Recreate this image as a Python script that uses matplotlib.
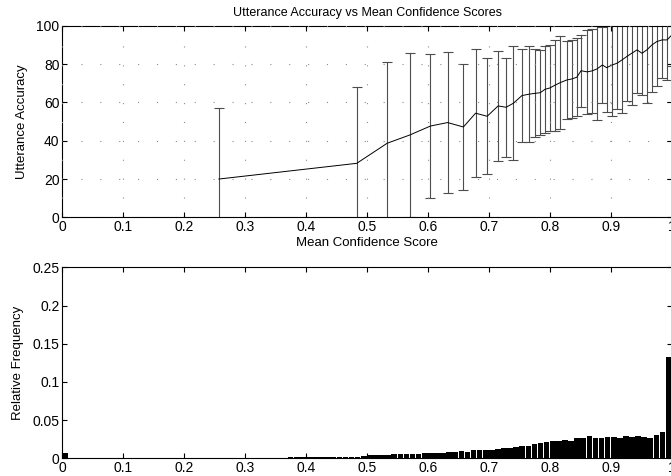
import matplotlib
matplotlib.use('Agg')
import matplotlib.pyplot as plt
import numpy as np

plt.rcParams['font.family'] = ['Liberation Sans', 'DejaVu Sans']

# accuracy vs mean confidence (mean and std of utterance accuracy per bin)
acc_x = [0.257, 0.483, 0.533, 0.570, 0.604, 0.632, 0.658, 0.678, 0.697, 0.715,
         0.728, 0.740, 0.754, 0.765, 0.776, 0.784, 0.792, 0.800, 0.808, 0.817,
         0.828, 0.836, 0.844, 0.851, 0.861, 0.869, 0.877, 0.886, 0.893, 0.902,
         0.910, 0.918, 0.926, 0.934, 0.943, 0.951, 0.959, 0.967, 0.975, 0.984,
         0.992, 1.000]
acc_mean = [20.0, 28.2, 38.7, 43.0, 47.7, 49.5, 47.2, 54.4, 52.8, 58.2,
            57.5, 59.6, 63.6, 64.3, 64.8, 65.1, 66.9, 67.6, 69.0, 70.4,
            71.8, 72.3, 73.2, 76.6, 76.0, 76.5, 77.5, 79.6, 78.2, 79.6,
            80.5, 82.2, 84.0, 85.7, 87.5, 85.7, 87.5, 90.0, 91.8, 92.7,
            92.7, 95.3]
acc_std = [37.0, 39.8, 42.3, 43.0, 37.5, 36.8, 33.0, 33.5, 30.3, 28.9,
           26.0, 29.9, 24.1, 25.0, 23.0, 22.2, 22.7, 22.3, 23.7, 24.5,
           20.5, 20.5, 20.5, 18.7, 22.0, 21.8, 26.6, 20.0, 23.0, 26.8,
           23.9, 27.8, 23.0, 26.8, 22.7, 21.8, 27.9, 24.3, 23.0, 20.0,
           20.7, 16.3]

# histogram of mean confidence, 100 bins of width 0.01
hist_freq = [0.0065, 0.001, 0.001, 0.001, 0.001, 0.0003, 0, 0, 0, 0,
             0.0005, 0, 0, 0, 0, 0.0002, 0, 0, 0, 0,
             0.0005, 0, 0, 0, 0, 0.0005, 0.0002, 0.0002, 0.0002, 0.0002,
             0.0008, 0.0008, 0.0008, 0.0008, 0.0008, 0.0008, 0.0008, 0.0015, 0.0015, 0.0015,
             0.0015, 0.0015, 0.0015, 0.0018, 0.0018, 0.0018, 0.0018, 0.002, 0.002, 0.003,
             0.004, 0.0045, 0.0045, 0.0048, 0.005, 0.005, 0.0055, 0.0055, 0.0055, 0.0066,
             0.0066, 0.0074, 0.0074, 0.0087, 0.0087, 0.0095, 0.0087, 0.0105, 0.0115, 0.0105,
             0.011, 0.0125, 0.013, 0.014, 0.015, 0.0165, 0.0165, 0.0188, 0.02, 0.0215,
             0.023, 0.0225, 0.024, 0.023, 0.026, 0.026, 0.029, 0.027, 0.027, 0.028,
             0.0285, 0.026, 0.0295, 0.0285, 0.029, 0.028, 0.027, 0.030, 0.035, 0.132]
hist_edges = np.arange(100) * 0.01

xticks = np.arange(11) * 0.1
xlabels = ['0', '0.1', '0.2', '0.3', '0.4', '0.5', '0.6', '0.7', '0.8', '0.9', '1']

fig = plt.figure(figsize=(6.71, 4.76), dpi=100)
ax1 = fig.add_axes([0.0928, 0.5435, 0.9085, 0.402])
ax2 = fig.add_axes([0.0928, 0.0372, 0.9085, 0.4012])

ax1.errorbar(acc_x, acc_mean, yerr=acc_std, color='k', lw=0.7,
             ecolor='0.3', elinewidth=0.8, capsize=3.5, capthick=0.8)
ax1.set_xlim(0, 1)
ax1.set_ylim(0, 100)
ax1.set_yticks([0, 20, 40, 60, 80, 100])
ax1.grid(True, color='0.55', linestyle=(0, (1, 16)), lw=0.8)
ax1.set_title('Utterance Accuracy vs Mean Confidence Scores', fontsize=9, pad=7)
ax1.set_xlabel('Mean Confidence Score', fontsize=9.5, labelpad=2)
ax1.set_ylabel('Utterance Accuracy', fontsize=9.5, labelpad=6)

ax2.bar(hist_edges, hist_freq, width=0.0092, align='edge', color='k',
        edgecolor='none')
ax2.set_xlim(0, 1)
ax2.set_ylim(0, 0.25)
ax2.set_yticks([0, 0.05, 0.1, 0.15, 0.2, 0.25])
ax2.set_yticklabels(['0', '0.05', '0.1', '0.15', '0.2', '0.25'])
ax2.set_ylabel('Relative Frequency', fontsize=9.5, labelpad=6)

for ax in (ax1, ax2):
    ax.set_xticks(xticks)
    ax.set_xticklabels(xlabels)
    ax.tick_params(direction='in', top=True, right=True, length=3.5,
                   width=0.8, labelsize=10, pad=2)
    ax.set_axisbelow(False)
    for s in ax.spines.values():
        s.set_linewidth(0.8)

fig.savefig('out.png', dpi=100)
